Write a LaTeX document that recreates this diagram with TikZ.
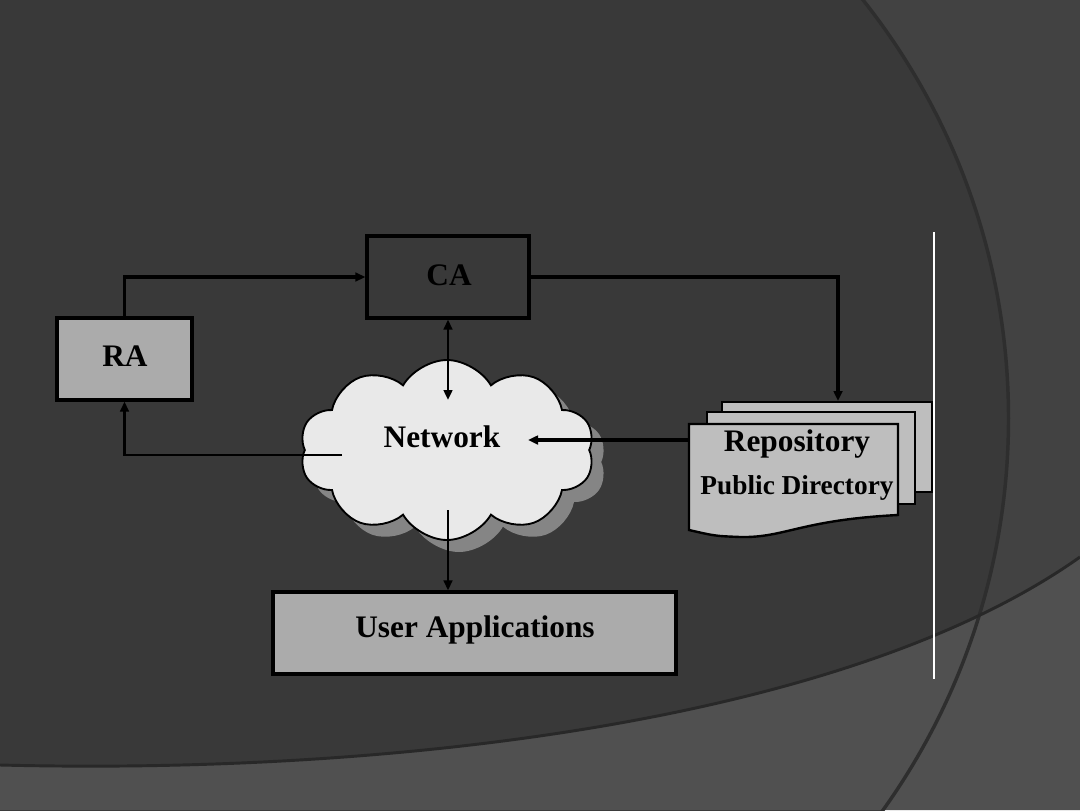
\documentclass[tikz,border=0pt]{standalone}
\usepackage{fontspec}
\setmainfont{Liberation Serif}
\usetikzlibrary{arrows.meta,shapes.symbols}
\definecolor{bgin}{HTML}{393939}
\definecolor{bgout}{HTML}{424242}
\definecolor{bgbot}{HTML}{505050}
\definecolor{arcline}{HTML}{2E2E2E}
\definecolor{boxgray}{HTML}{ABABAB}
\definecolor{pagegray}{HTML}{BEBEBE}
\definecolor{cloudfill}{HTML}{E9E9E9}
\definecolor{cloudshadow}{HTML}{858585}
\tikzset{
  lbl/.style={font=\fontsize{23.5}{27}\selectfont\bfseries, text=black, inner sep=0pt},
  sublbl/.style={font=\fontsize{20.5}{24}\selectfont\bfseries, text=black, inner sep=0pt},
  box/.style={draw=black, line width=2.4pt, rectangle, inner sep=0pt, minimum height=61.5pt},
  conn/.style={draw=black, line width=1.8pt, -{Triangle[length=7.5pt,width=6.5pt]}},
  thickconn/.style={draw=black, line width=2.6pt, -{Triangle[length=7.5pt,width=6.5pt]}},
  page/.style={draw=black, line width=1.8pt, fill=pagegray},
  cloudy/.style={cloud, cloud puffs=10, cloud puff arc=120, cloud ignores aspect, minimum width=221pt, minimum height=135pt, inner sep=0pt}
}
\begin{document}
\begin{tikzpicture}[x=0.75pt,y=-0.75pt]
\useasboundingbox (0,0) rectangle (1080,810);
\begin{scope}
\clip (0,0) rectangle (1080,810);
% background
\fill[bgout] (0,0) rectangle (1080,810);
\fill[bgin] (334.5,418.3) circle[radius=505.5pt];
\fill[bgbot] (0,765) .. controls (400,775) and (850,720) .. (1080,557) -- (1080,810) -- (0,810) -- cycle;
\draw[arcline, line width=2.6pt] (334.5,418.3) circle[radius=505.5pt];
\draw[color=black!30!bgin, line width=2.2pt] (0,765) .. controls (400,775) and (850,720) .. (1080,557);
\end{scope}
% white vertical rule
\draw[white, line width=2.2pt] (934,232) -- (934,679);

% boxes
\node[box, minimum width=121.5pt, fill=bgin] (ca) at (448,277) {};
\node[lbl] (calbl) at (449,275) {CA};
\node[box, minimum width=101.25pt, fill=boxgray] (ra) at (124.5,359) {};
\node[lbl] (ralbl) at (125,356) {RA};
\node[box, minimum width=302.25pt, fill=boxgray] (user) at (474.5,633) {};
\node[lbl] (userlbl) at (475,630) {User Applications};

% cloud
\node[cloudy, fill=cloudshadow] (netshadow) at (459,462) {};
\node[cloudy, fill=cloudfill, draw=black, line width=1.4pt] (net) at (447,450) {};
\node[lbl] (netlbl) at (442,437) {Network};

% repository pages
\draw[page] (722,402) rectangle (932,492);
\draw[page] (707,412) rectangle (915,504);
\draw[page] (689,424) -- (898,424) -- (898,515)
   .. controls (800,520) and (785,538) .. (740,537)
   .. controls (715,536) .. (689,530) -- cycle;
\node[inner sep=0pt, minimum width=156.75pt, minimum height=69.75pt] (repo) at (793.5,470.5) {};
\node[lbl] (repolbl) at (797,444) {Repository};
\node[sublbl] (dirlbl) at (797,488) {Public Directory};

% connector end points
\coordinate (repotop) at (838,401);
\coordinate (nettop) at (448,400);
\coordinate (netleft) at (342,455);
\coordinate (netright) at (528,440);
\coordinate (netbot) at (448,510);

% connectors
\draw[thickconn] (ra.north) |- (ca.west);
\draw[thickconn] (ca.east) -| (repotop);
\draw[draw=black, line width=1.8pt, {Triangle[length=7.5pt,width=6.5pt]}-{Triangle[length=7.5pt,width=6.5pt]}] (ca.south) -- (nettop);
\draw[conn] (netleft) -| (ra.south);
\draw[thickconn] (repo.west |- netright) -- (netright);
\draw[conn] (netbot) -- (netbot |- user.north);
\end{tikzpicture}
\end{document}
